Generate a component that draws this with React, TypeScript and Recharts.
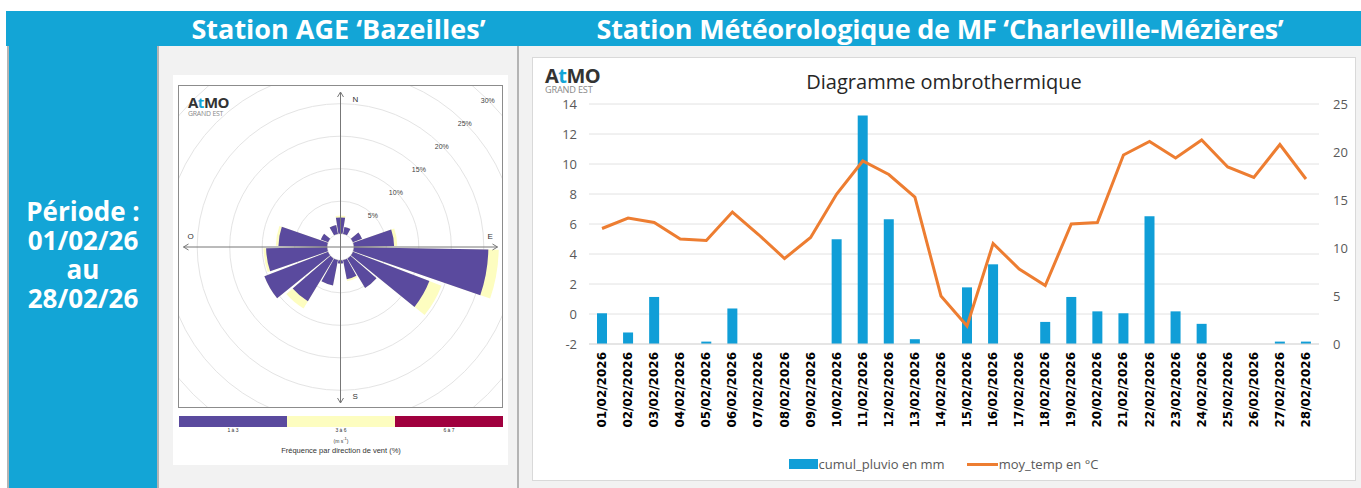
import React from "react";
import {
  ComposedChart,
  Bar,
  Line,
  XAxis,
  YAxis,
  CartesianGrid,
  Legend,
  RadarChart,
  Radar,
  PolarGrid,
  PolarAngleAxis,
  PolarRadiusAxis,
  Sector,
} from "recharts";

// --- ombrothermic chart data (Charleville-Mézières) ---
const dates = [
  "01/02/2026", "02/02/2026", "03/02/2026", "04/02/2026", "05/02/2026", "06/02/2026", "07/02/2026",
  "08/02/2026", "09/02/2026", "10/02/2026", "11/02/2026", "12/02/2026", "13/02/2026", "14/02/2026",
  "15/02/2026", "16/02/2026", "17/02/2026", "18/02/2026", "19/02/2026", "20/02/2026", "21/02/2026",
  "22/02/2026", "23/02/2026", "24/02/2026", "25/02/2026", "26/02/2026", "27/02/2026", "28/02/2026",
];
const pluvio = [
  3.2, 1.2, 4.9, 0, 0.25, 3.7, 0, 0, 0, 10.9, 23.8, 13.0, 0.5, 0,
  5.9, 8.3, 0, 2.3, 4.9, 3.4, 3.2, 13.3, 3.4, 2.1, 0, 0, 0.25, 0.25,
];
const temp = [
  5.7, 6.4, 6.1, 5.0, 4.9, 6.8, 5.3, 3.7, 5.1, 8.0, 10.2, 9.3, 7.8, 1.2,
  -0.8, 4.7, 3.0, 1.9, 6.0, 6.1, 10.6, 11.5, 10.4, 11.6, 9.8, 9.1, 11.3, 9.0,
];
const tempTicks = [-2, 0, 2, 4, 6, 8, 10, 12, 14];
const pluvioTicks = [0, 5, 10, 15, 20, 25];

// --- wind rose data (Bazeilles), % per 20° sector, from N clockwise ---
const roseDirs = [0, 20, 40, 60, 80, 100, 120, 140, 160, 180, 200, 220, 240, 260, 280, 300, 320, 340];
const roseSlow = [2.5, 1.1, 0, 1.5, 6.2, 20.7, 12.6, 5.3, 3.0, 0.5, 4.0, 7.7, 10.5, 9.4, 7.5, 1.2, 0, 1.4]; // 1 à 3 m/s
const roseMid = [0.3, 0, 0, 0, 0.5, 1.6, 2.0, 0, 0.3, 0, 0, 1.3, 0, 0.4, 0.4, 0, 0, 0]; // 3 à 6 m/s
const roseTicks = [0, 5, 10, 15, 20, 25, 30];
const speedClasses = ["1 à 3", "3 à 6", "6 à 7"];

const BLUE = "#13a5d6";
const PURPLE = "#5a4a9e";
const YELLOW = "#fdfdc0";
const CRIMSON = "#a0003e";
const FONT = "'Open Sans', sans-serif";
const ROSE_HOLE = 13.3;

const chartData = dates.map((d, i) => ({ date: d, pluvio: pluvio[i], temp: temp[i] }));
const roseData = roseDirs.map((dir, i) => ({
  dir,
  slow: roseSlow[i],
  total: roseSlow[i] + roseMid[i],
}));

const wedges = (fill: string, withCross: boolean) => (props: any) => {
  const pts = props.points || [];
  const cx = pts.length ? pts[0].cx : 0;
  const cy = pts.length ? pts[0].cy : 0;
  return (
    <g>
      {pts.map((p: any, i: number) =>
        p.value > 0 ? (
          <Sector
            key={i}
            cx={p.cx}
            cy={p.cy}
            innerRadius={ROSE_HOLE}
            outerRadius={p.radius}
            startAngle={p.angle - 9}
            endAngle={p.angle + 9}
            fill={fill}
            stroke="none"
          />
        ) : null
      )}
      {withCross && (
        <g stroke="#777" strokeWidth={1} fill="none">
          <line x1={cx} y1={cy - 155} x2={cx} y2={cy + 156} />
          <line x1={cx - 157} y1={cy} x2={cx + 157} y2={cy} />
          <polyline points={`${cx - 3},${cy - 150} ${cx},${cy - 155} ${cx + 3},${cy - 150}`} />
          <polyline points={`${cx - 3},${cy + 151} ${cx},${cy + 156} ${cx + 3},${cy + 151}`} />
          <polyline points={`${cx + 152},${cy - 3} ${cx + 157},${cy} ${cx + 152},${cy + 3}`} />
          <polyline points={`${cx - 152},${cy - 3} ${cx - 157},${cy} ${cx - 152},${cy + 3}`} />
        </g>
      )}
      {withCross && (
        <g fontSize={8} fill="#333" fontFamily="Arial, sans-serif">
          <text x={cx + 12} y={cy - 145}>N</text>
          <text x={cx + 147} y={cy - 8}>E</text>
          <text x={cx + 12} y={cy + 152}>S</text>
          <text x={cx - 153} y={cy - 8}>O</text>
        </g>
      )}
    </g>
  );
};

const PctTick = (props: any) => {
  const { x, y, payload } = props;
  if (!payload.value) return null;
  return (
    <text x={x} y={y} textAnchor="middle" dy={3} fontSize={7} fill="#444" fontFamily="Arial, sans-serif">
      {payload.value}%
    </text>
  );
};

const DateTick = (props: any) => {
  const { x, y, payload } = props;
  return (
    <text
      x={x}
      y={y}
      transform={`rotate(-90, ${x}, ${y})`}
      textAnchor="end"
      dy={4}
      fontSize={12}
      fontWeight={700}
      fontFamily="'DejaVu Sans', sans-serif"
      fill="#000"
    >
      {payload.value}
    </text>
  );
};

const renderLegend = (props: any) => (
  <div
    style={{
      display: "flex",
      justifyContent: "center",
      alignItems: "center",
      gap: 22,
      fontFamily: FONT,
      fontSize: 13,
      color: "#595959",
      paddingTop: 14,
      paddingRight: 6,
    }}
  >
    {(props.payload || []).map((e: any) => (
      <span key={e.value} style={{ display: "flex", alignItems: "center" }}>
        {e.type === "line" ? (
          <span style={{ display: "inline-block", width: 31, height: 3, background: e.color }} />
        ) : (
          <span style={{ display: "inline-block", width: 29, height: 10, background: e.color }} />
        )}
        <span style={{ marginLeft: 1 }}>{e.value}</span>
      </span>
    ))}
  </div>
);

const Logo = ({ size, left, top }: { size: number; left: number; top: number }) => (
  <div style={{ position: "absolute", left, top, fontFamily: FONT }}>
    <div style={{ fontSize: size, fontWeight: 700, color: "#333", letterSpacing: -0.5, lineHeight: `${size * 0.9}px` }}>
      A<span style={{ color: BLUE }}>t</span>MO
    </div>
    <div
      style={{
        fontSize: size * 0.46,
        color: "#8a8a8a",
        lineHeight: `${size * 0.5}px`,
        letterSpacing: -0.2,
      }}
    >
      GRAND EST
    </div>
  </div>
);

export default function App() {
  return (
    <div
      style={{
        position: "absolute",
        left: 0,
        top: 0,
        width: 1361,
        height: 488,
        background: "#fff",
        overflow: "hidden",
        fontFamily: FONT,
      }}
    >
      {/* header band */}
      <div style={{ position: "absolute", left: 6, top: 11, width: 1355, height: 35, background: BLUE }} />
      <div
        style={{
          position: "absolute", left: 159, top: 11, width: 359, height: 35, lineHeight: "35px",
          textAlign: "center", color: "#fff", fontWeight: 700, fontSize: 27,
        }}
      >
        Station AGE ‘Bazeilles’
      </div>
      <div
        style={{
          position: "absolute", left: 519, top: 11, width: 842, height: 35, lineHeight: "35px",
          textAlign: "center", color: "#fff", fontWeight: 700, fontSize: 27, letterSpacing: -0.2,
        }}
      >
        Station Météorologique de MF ‘Charleville-Mézières’
      </div>

      {/* left period column */}
      <div style={{ position: "absolute", left: 7, top: 46, width: 2, height: 442, background: "#b4b4b4" }} />
      <div style={{ position: "absolute", left: 9, top: 46, width: 148, height: 442, background: BLUE }} />
      <div style={{ position: "absolute", left: 157, top: 46, width: 2, height: 442, background: "#b4b4b4" }} />
      <div
        style={{
          position: "absolute", left: 9, top: 197, width: 148, textAlign: "center", color: "#fff",
          fontWeight: 700, fontSize: 26, lineHeight: "29px",
        }}
      >
        Période :<br />01/02/26<br />au<br />28/02/26
      </div>

      {/* middle panel: wind rose */}
      <div style={{ position: "absolute", left: 159, top: 46, width: 358, height: 442, background: "#f2f2f2" }} />
      <div style={{ position: "absolute", left: 517, top: 46, width: 2, height: 442, background: "#b4b4b4" }} />
      <div style={{ position: "absolute", left: 173, top: 75, width: 335, height: 390, background: "#fff" }} />
      <div
        style={{
          position: "absolute", left: 178, top: 85, width: 325, height: 323, border: "1px solid #8c8c8c",
          boxSizing: "border-box", overflow: "hidden", background: "#fff",
        }}
      >
        <RadarChart
          width={323}
          height={321}
          data={roseData}
          cx={161.5}
          cy={161}
          innerRadius={ROSE_HOLE}
          outerRadius={208.3}
          margin={{ top: 0, right: 0, bottom: 0, left: 0 }}
        >
          <PolarGrid gridType="circle" radialLines={false} stroke="#e4e4e4" />
          <PolarAngleAxis dataKey="dir" tick={false} axisLine={false} />
          <PolarRadiusAxis
            angle={45}
            domain={[0, 30]}
            ticks={roseTicks}
            axisLine={false}
            tickLine={false}
            tick={<PctTick />}
          />
          <Radar dataKey="total" shape={wedges(YELLOW, false)} isAnimationActive={false} />
          <Radar dataKey="slow" shape={wedges(PURPLE, true)} isAnimationActive={false} />
        </RadarChart>
      </div>
      <Logo size={15} left={188} top={96} />
      <div style={{ position: "absolute", left: 179, top: 416, width: 324, height: 11, display: "flex" }}>
        {[PURPLE, YELLOW, CRIMSON].map((c) => (
          <div key={c} style={{ flex: 1, background: c }} />
        ))}
      </div>
      <div
        style={{
          position: "absolute", left: 179, top: 427, width: 324, display: "flex",
          fontFamily: "Arial, sans-serif", fontSize: 5, color: "#333",
        }}
      >
        {speedClasses.map((s) => (
          <div key={s} style={{ flex: 1, textAlign: "center" }}>{s}</div>
        ))}
      </div>
      <div
        style={{
          position: "absolute", left: 179, top: 436, width: 324, textAlign: "center",
          fontFamily: "Arial, sans-serif", fontSize: 5, color: "#333",
        }}
      >
        (m s<sup style={{ fontSize: 4 }}>-1</sup>)
      </div>
      <div
        style={{
          position: "absolute", left: 179, top: 446, width: 324, textAlign: "center",
          fontFamily: "Arial, sans-serif", fontSize: 7.5, color: "#333",
        }}
      >
        Fréquence par direction de vent (%)
      </div>

      {/* right panel: ombrothermic chart */}
      <div style={{ position: "absolute", left: 519, top: 46, width: 842, height: 442, background: "#f2f2f2" }} />
      <div
        style={{
          position: "absolute", left: 532, top: 57, width: 824, height: 424, background: "#fff",
          border: "1px solid #d9d9d9", boxSizing: "border-box",
        }}
      />
      <div style={{ position: "absolute", left: 532, top: 57 }}>
        <ComposedChart
          width={824}
          height={424}
          data={chartData}
          margin={{ top: 47, right: 7, left: 12, bottom: 0 }}
        >
          <CartesianGrid yAxisId="temp" vertical={false} stroke="#e2e2e2" />
          <XAxis
            dataKey="date"
            interval={0}
            tick={<DateTick />}
            tickLine={false}
            axisLine={{ stroke: "#d9d9d9" }}
            height={97}
          />
          <YAxis
            yAxisId="temp"
            domain={[-2, 14]}
            ticks={tempTicks}
            width={45}
            axisLine={false}
            tickLine={false}
            tickMargin={6}
            tick={{ fill: "#595959", fontSize: 13 }}
          />
          <YAxis
            yAxisId="pluvio"
            orientation="right"
            domain={[0, 25]}
            ticks={pluvioTicks}
            width={30}
            axisLine={false}
            tickLine={false}
            tickMargin={8}
            tick={{ fill: "#595959", fontSize: 13 }}
          />
          <Bar
            yAxisId="pluvio"
            dataKey="pluvio"
            name="cumul_pluvio en mm"
            fill="#109ed7"
            barSize={10}
            isAnimationActive={false}
          />
          <Line
            yAxisId="temp"
            dataKey="temp"
            name="moy_temp en °C"
            stroke="#ed7d31"
            strokeWidth={3}
            dot={false}
            type="linear"
            isAnimationActive={false}
          />
          <Legend verticalAlign="bottom" height={40} content={renderLegend} />
        </ComposedChart>
      </div>
      <div
        style={{
          position: "absolute", left: 532, top: 69, width: 824, textAlign: "center",
          fontSize: 20, color: "#262626", lineHeight: "26px",
        }}
      >
        Diagramme ombrothermique
      </div>
      <Logo size={20} left={545} top={67} />
    </div>
  );
}
